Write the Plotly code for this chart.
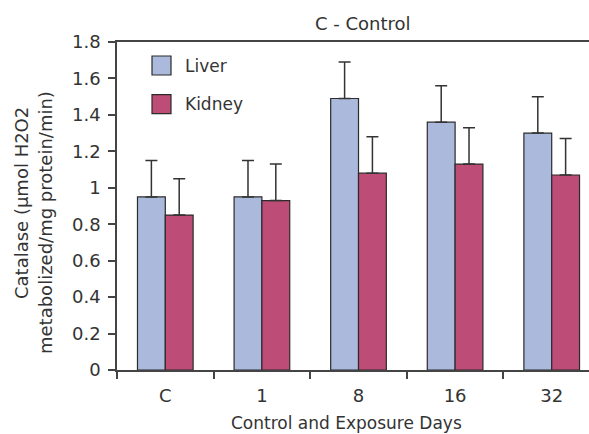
import plotly.graph_objects as go

categories = ["C", "1", "8", "16", "32"]
liver = [0.95, 0.95, 1.49, 1.36, 1.30]
liver_err = [0.20, 0.20, 0.20, 0.20, 0.20]
kidney = [0.85, 0.93, 1.08, 1.13, 1.07]
kidney_err = [0.20, 0.20, 0.20, 0.20, 0.20]
y_ticks = [0, 0.2, 0.4, 0.6, 0.8, 1, 1.2, 1.4, 1.6, 1.8]
y_tick_labels = ["0", "0.2", "0.4", "0.6", "0.8", "1", "1.2", "1.4", "1.6", "1.8"]

W, H = 589, 434
L, T, B, R = 117, 42, 64, 0
FONT = "DejaVu Sans"
TXT = "#333333"
LIVER_C = "#aab9dc"
KIDNEY_C = "#bd4d77"
EDGE = "#2b2b2b"

pw = W - L - R
ph = H - T - B


def px(x):
    return (x - L) / pw


def py(y):
    return (H - B - y) / ph


fig = go.Figure()
fig.add_trace(go.Bar(
    x=categories, y=liver, name="Liver",
    marker=dict(color=LIVER_C, line=dict(color=EDGE, width=1.2)),
    error_y=dict(type="data", symmetric=False, array=liver_err,
                 arrayminus=[0] * len(liver_err), color="#333333",
                 thickness=1.5, width=6),
))
fig.add_trace(go.Bar(
    x=categories, y=kidney, name="Kidney",
    marker=dict(color=KIDNEY_C, line=dict(color=EDGE, width=1.2)),
    error_y=dict(type="data", symmetric=False, array=kidney_err,
                 arrayminus=[0] * len(kidney_err), color="#333333",
                 thickness=1.5, width=6),
))

shapes = []
annotations = []
for i, (name, col) in enumerate([("Liver", LIVER_C), ("Kidney", KIDNEY_C)]):
    y0 = 56 + i * 38.6
    shapes.append(dict(type="rect", xref="paper", yref="paper",
                       x0=px(152), x1=px(171), y0=py(y0 + 19), y1=py(y0),
                       fillcolor=col, line=dict(color=EDGE, width=1.2)))
    annotations.append(dict(xref="paper", yref="paper", x=px(183), y=py(y0 + 9.5),
                            text=name, showarrow=False, xanchor="left", yanchor="middle",
                            font=dict(family=FONT, size=17, color=TXT)))

annotations.append(dict(xref="paper", yref="paper", x=px(363), y=py(23),
                        text="C - Control", showarrow=False, xanchor="center",
                        yanchor="middle", font=dict(family=FONT, size=18, color=TXT)))
annotations.append(dict(xref="paper", yref="paper", x=px(346), y=py(423),
                        text="Control and Exposure Days", showarrow=False,
                        xanchor="center", yanchor="middle",
                        font=dict(family=FONT, size=17, color=TXT)))
annotations.append(dict(xref="paper", yref="paper", x=px(21), y=py(203),
                        text="Catalase (µmol H2O2", showarrow=False, textangle=-90,
                        xanchor="center", yanchor="middle",
                        font=dict(family=FONT, size=18, color=TXT)))
annotations.append(dict(xref="paper", yref="paper", x=px(46), y=py(223),
                        text="metabolized/mg protein/min)", showarrow=False, textangle=-90,
                        xanchor="center", yanchor="middle",
                        font=dict(family=FONT, size=18, color=TXT)))

fig.update_layout(
    width=W, height=H,
    margin=dict(l=L, r=R, t=T, b=B, pad=0),
    paper_bgcolor="white", plot_bgcolor="white",
    barmode="group", bargap=0.424, bargroupgap=0,
    showlegend=False,
    shapes=shapes, annotations=annotations,
    font=dict(family=FONT, size=17, color=TXT),
)
fig.update_xaxes(
    type="category", range=[-0.5, 4.386],
    showline=True, linecolor="#444444", linewidth=1.5, mirror=True,
    ticks="outside", tickson="boundaries", ticklen=7, tickcolor="#444444",
    tickwidth=1.5, showgrid=False, zeroline=False, ticklabelstandoff=9,
    tickfont=dict(family=FONT, size=18, color=TXT),
)
fig.update_yaxes(
    range=[0, 1.8], tickvals=y_ticks, ticktext=y_tick_labels,
    showline=True, linecolor="#444444", linewidth=1.5,
    ticks="outside", ticklen=7, tickcolor="#444444", tickwidth=1.5,
    showgrid=False, zeroline=False, ticklabelstandoff=4,
    tickfont=dict(family=FONT, size=18, color=TXT),
)

fig.write_html("out.html", config={"displayModeBar": False})

with open("out.html", "r", encoding="utf-8") as f:
    html = f.read()
html = html.replace("<body>", '<body style="margin:0;padding:0;overflow:hidden">', 1)
with open("out.html", "w", encoding="utf-8") as f:
    f.write(html)
